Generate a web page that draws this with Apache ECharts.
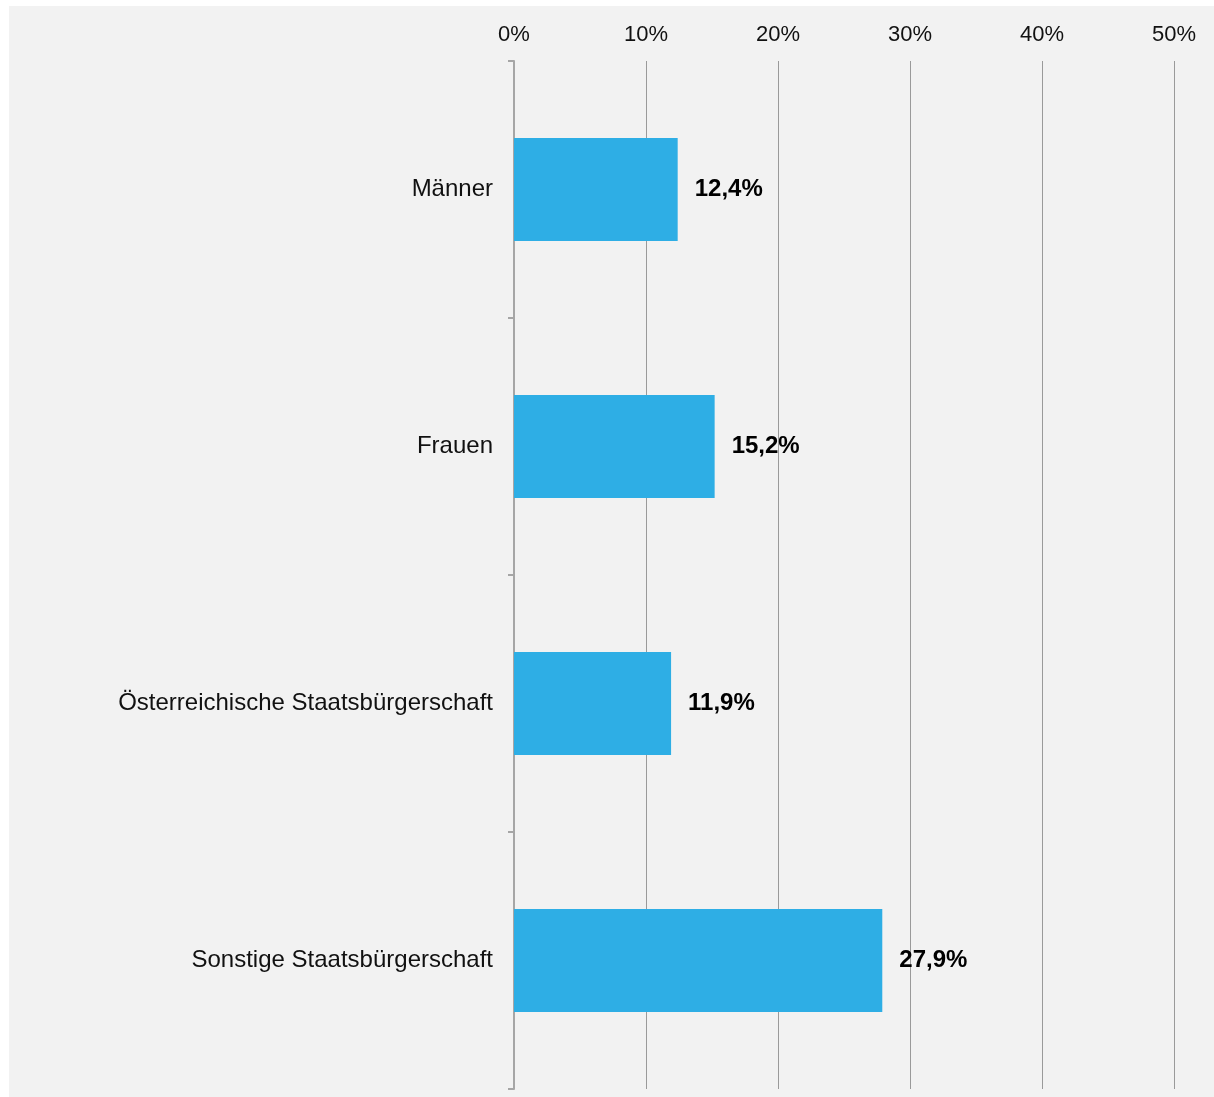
<!DOCTYPE html>
<html><head><meta charset="utf-8">
<script src="https://cdn.jsdelivr.net/npm/echarts@6/dist/echarts.min.js"></script>
<style>
html,body{margin:0;padding:0;background:#fff;}
#c{position:absolute;left:9px;top:6px;width:1205px;height:1091px;background:#f2f2f2;}
</style></head><body>
<div id="c"></div>
<script>
var categories = ["Männer", "Frauen", "Österreichische Staatsbürgerschaft", "Sonstige Staatsbürgerschaft"];
var values = [12.4, 15.2, 11.9, 27.9];
var valueLabels = ["12,4%", "15,2%", "11,9%", "27,9%"];

var chart = echarts.init(document.getElementById('c'), null, {renderer: 'canvas'});
chart.setOption({
  backgroundColor: '#f2f2f2',
  animation: false,
  grid: {left: 505, right: 40, top: 55, bottom: 8, containLabel: false},
  xAxis: {
    type: 'value', position: 'top', min: 0, max: 50, interval: 10,
    axisLine: {show: false}, axisTick: {show: false},
    axisLabel: {formatter: function(v){return v + '%';}, fontSize: 22, color: '#111', fontFamily: 'Liberation Sans, Arial', margin: 15},
    splitLine: {show: true, lineStyle: {color: '#9a9a9a', width: 1}}
  },
  yAxis: {
    type: 'category', data: categories, inverse: true,
    axisLine: {show: true, lineStyle: {color: '#a6a6a6', width: 2}},
    axisTick: {show: true, length: 6, lineStyle: {color: '#a6a6a6', width: 2}},
    axisLabel: {fontSize: 24, color: '#111', fontFamily: 'Liberation Sans, Arial', margin: 21, padding: [5, 0, 0, 0]}
  },
  series: [{
    type: 'bar', data: values, barWidth: 103,
    itemStyle: {color: '#2eaee5'},
    label: {show: true, position: 'right', distance: 17, fontSize: 24, fontWeight: 'bold', color: '#000', fontFamily: 'Liberation Sans, Arial', padding: [5, 0, 0, 0],
      formatter: function(p){return valueLabels[p.dataIndex];}}
  }]
});
</script>
</body></html>
